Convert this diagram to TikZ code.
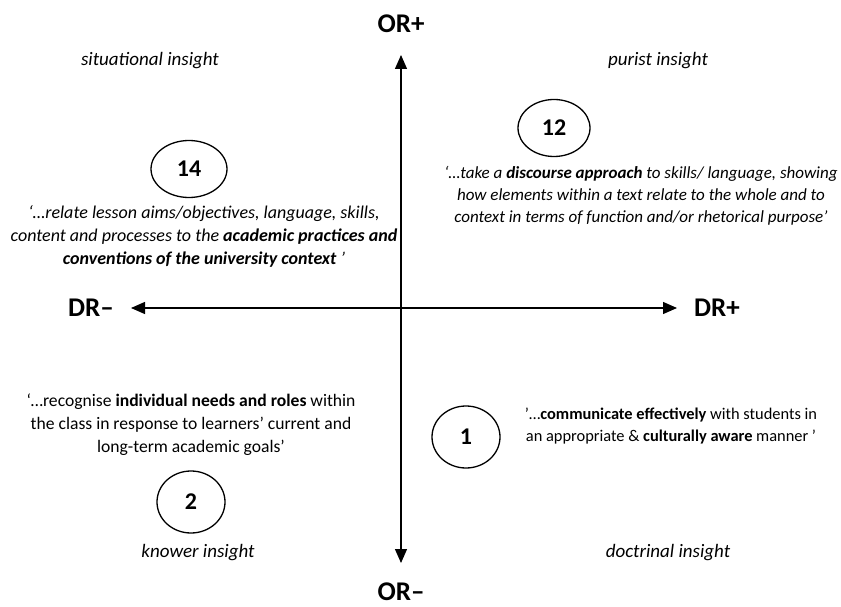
\documentclass[tikz,border=0pt]{standalone}
\usepackage{fontspec}
\setmainfont{Carlito}
\usetikzlibrary{arrows.meta,shapes.geometric}
\begin{document}
\begin{tikzpicture}[x=1pt,y=-1pt,
  axislab/.style={font=\fontsize{27}{30}\selectfont\bfseries, inner sep=0pt},
  quadlab/.style={font=\fontsize{19}{22}\selectfont\itshape, inner sep=0pt},
  numell/.style={draw, ellipse, line width=1.3pt, inner sep=0pt, font=\fontsize{24}{28}\selectfont\bfseries},
  axis/.style={line width=1.3pt, {Triangle[length=14pt,width=12pt]}-{Triangle[length=14pt,width=12pt]}}
]
\useasboundingbox (0,0) rectangle (841,607);
% axes
\coordinate (vtop) at (401,55);
\coordinate (vbot) at (401,563);
\coordinate (hleft) at (131,308);
\coordinate (hright) at (677,308);
\draw[axis] (vtop) -- (vbot);
\draw[axis] (hleft) -- (hright);
\node[axislab] (orp) at (401,24) {OR+};
\node[axislab, anchor=base] (orm) at (401,600) {OR–};
\node[axislab] (drm) at (91,308) {DR–};
\node[axislab] (drp) at (717,308) {DR+};
% quadrant labels
\node[quadlab] (sit) at (150,61) {situational insight};
\node[quadlab] (pur) at (658,61) {purist insight};
\node[quadlab] (kno) at (198,553) {knower insight};
\node[quadlab] (doc) at (668,553) {doctrinal insight};
% numbered ellipses
\node[numell, minimum width=76pt, minimum height=57pt] (n14) at (189,169) {14};
\node[numell, minimum width=72pt, minimum height=57pt] (n12) at (554,128) {12};
\node[numell, minimum width=68pt, minimum height=62pt] (n2) at (191,502) {2};
\node[numell, minimum width=68pt, minimum height=62pt] (n1) at (466,437) {1};
% quotes
\node[align=center, inner sep=0pt, font=\fontsize{18}{23}\selectfont\itshape] (q14) at (204,236) {‘…relate lesson aims/objectives, language, skills,\\content and processes to the \textbf{academic practices and}\\\textbf{conventions of the university context} ’};
\node[align=center, inner sep=0pt, font=\fontsize{17}{22}\selectfont\itshape] (q12) at (641,196) {‘…take a \textbf{discourse approach} to skills/ language, showing\\how elements within a text relate to the whole and to\\context in terms of function and/or rhetorical purpose’};
\node[align=center, inner sep=0pt, font=\fontsize{17.6}{23}\selectfont] (q2) at (191,425) {‘…recognise \textbf{individual needs and roles} within\\the class in response to learners’ current and\\long-term academic goals’};
\node[align=center, inner sep=0pt, font=\fontsize{16.4}{22}\selectfont] (q1) at (671,426) {’…\textbf{communicate effectively} with students in\\an appropriate \& \textbf{culturally aware} manner ’};
\end{tikzpicture}
\end{document}
